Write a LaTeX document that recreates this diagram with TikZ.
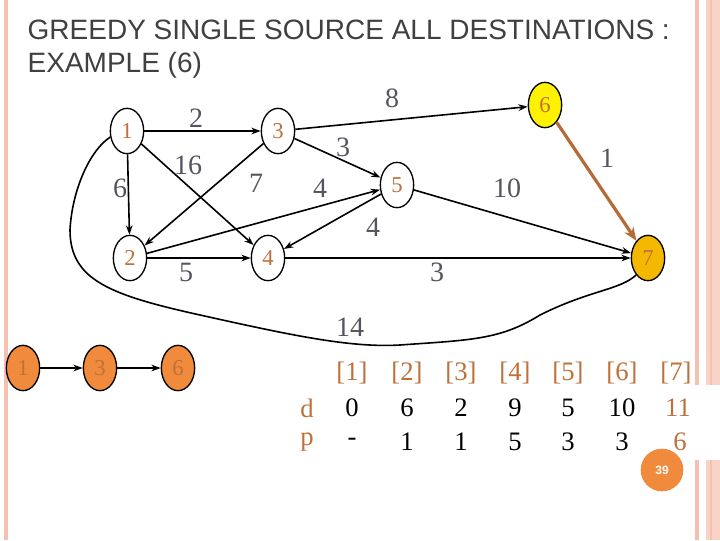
\documentclass[tikz,border=0pt]{standalone}
\usepackage{fontspec}
\setmainfont{Liberation Serif}
\newfontfamily\titlefont{Liberation Sans}
\usetikzlibrary{arrows.meta,shapes.geometric}
\definecolor{brn}{HTML}{C0703A}
\definecolor{pinkb}{HTML}{F6C0B0}
\definecolor{orn}{HTML}{F08A3C}
\definecolor{gold}{HTML}{F5B800}
\definecolor{lbl}{HTML}{555560}
\tikzset{
 vx/.style={draw=black,line width=1pt,ellipse,minimum width=25pt,minimum height=34pt,inner sep=0pt,text=brn,font=\fontsize{17}{17}\selectfont},
 ed/.style={-{Stealth[length=7pt,width=5pt]},line width=1.2pt},
 el/.style={text=lbl,font=\fontsize{21}{21}\selectfont},
 tb/.style={font=\fontsize{20}{20}\selectfont}
}
\begin{document}
\begin{tikzpicture}[x=0.75pt,y=-0.75pt]
\useasboundingbox (0,0) rectangle (720,540);
\fill[white] (0,0) rectangle (720,540);
\fill[pinkb] (4,0) rectangle (8,540);
\fill[pinkb] (695,0) rectangle (699,540);
\fill[pinkb!70] (706,0) rectangle (720,540);
\fill[pinkb] (710,0) rectangle (712,540);
\node[anchor=west,text=black!75,font=\titlefont\fontsize{21}{21}\selectfont] (t1) at (23,30) {GREEDY SINGLE SOURCE ALL DESTINATIONS :};
\node[anchor=west,text=black!75,font=\titlefont\fontsize{21}{21}\selectfont] (t2) at (23,65) {EXAMPLE (6)};
% graph
\node[vx,fill=white] (n1) at (127,131) {1};
\node[vx,fill=white] (n3) at (278,131) {3};
\node[vx,fill=yellow] (n6) at (545,105) {6};
\node[vx,fill=white] (n5) at (397,185) {5};
\node[vx,fill=white] (n2) at (130,258) {2};
\node[vx,fill=white] (n4) at (268,258) {4};
\node[vx,fill=gold] (n7) at (648,258) {7};
\draw[ed] (n1) -- (n3);
\draw[ed] (n1) -- (n2);
\draw[ed] (n1) -- (n4);
\draw[ed] (n3) -- (n6);
\draw[ed] (n3) -- (n5);
\draw[ed] (n3) -- (n2);
\draw[ed] (n2) -- (n5);
\draw[ed] (n5) -- (n4);
\draw[ed] (n5) -- (n7);
\draw[ed] (n2) -- (n4);
\draw[ed] (n4) -- (n7);
\draw[-{Stealth[length=10pt,width=8pt]},line width=2.4pt,draw=brn!95!black] (n6) -- (n7);
\draw[line width=1.2pt] (n1.200) .. controls (90,150) and (72,190) .. (70,230)
  .. controls (70,280) and (110,295) .. (200,315)
  .. controls (290,335) and (350,348) .. (400,345)
  .. controls (470,340) and (500,340) .. (540,315)
  .. controls (590,290) and (620,290) .. (n7.235);
\node[el] (l2) at (196,118) {2};
\node[el] (l16) at (188,165) {16};
\node[el] (l6) at (120,188) {6};
\node[el] (l7) at (256,183) {7};
\node[el] (l3a) at (343,147) {3};
\node[el] (l4a) at (320,188) {4};
\node[el] (l10) at (507,188) {10};
\node[el] (l1) at (607,158) {1};
\node[el] (l4b) at (373,227) {4};
\node[el] (l5) at (186,272) {5};
\node[el] (l3b) at (437,272) {3};
\node[el] (l8) at (392,98) {8};
\node[el] (l14) at (350,327) {14};
% path
\node[vx,fill=orn] (p1) at (23,368) {1};
\node[vx,fill=orn] (p3) at (100,368) {3};
\node[vx,fill=orn] (p6) at (178,368) {6};
\draw[ed] (p1) -- (p3);
\draw[ed] (p3) -- (p6);
% table
\fill[white] (690,385) rectangle (720,460);
\foreach \i/\x/\d/\p in {1/352/0/-,2/407/6/1,3/461/2/1,4/515/9/5,5/568/5/3,6/622/10/3}{
  \node[tb,text=brn] (h\i) at (\x,373) {[\i]};
  \node[tb] (d\i) at (\x,408) {\d};
  \node[tb] (q\i) at (\x,442) {\p};
}
\node[tb,text=brn] (h7) at (676,373) {[7]};
\node[tb,text=brn] (d7) at (678,408) {11};
\node[tb,text=brn] (q7) at (680,442) {6};
\node[tb,text=brn] (dl) at (307,408) {d};
\node[tb,text=brn] (pl) at (307,442) {p};
\node[circle,fill=orn,minimum size=32pt,inner sep=0pt,text=white,font=\titlefont\bfseries\fontsize{9}{9}\selectfont] (pg) at (662,470) {39};
\end{tikzpicture}
\end{document}
